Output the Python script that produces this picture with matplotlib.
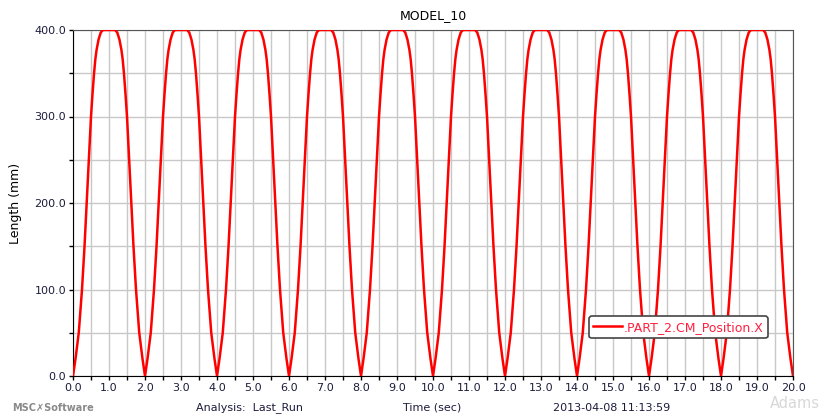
import numpy as np
import matplotlib as mpl
mpl.use('Agg')
import matplotlib.pyplot as plt

# one rise of the X position (time in s, length in mm)
rise_t = [0.00, 0.07, 0.16, 0.25, 0.32, 0.38, 0.44, 0.50, 0.54, 0.585,
          0.62, 0.655, 0.71, 0.77, 0.83]
rise_y = [0.0, 20.0, 50.0, 100.0, 150.0, 200.0, 250.0, 300.0, 325.0, 350.0,
          366.0, 377.0, 389.0, 397.0, 400.0]
period = 2.0
n_cycles = 10

title = 'MODEL_10'
series_label = '.PART_2.CM_Position.X'
analysis = 'Analysis:  Last_Run'
stamp = '2013-04-08 11:13:59'

# build the full trace: rise, mirrored fall, repeated each cycle
cyc_t = np.concatenate([rise_t, period - np.array(rise_t[::-1])])
cyc_y = np.concatenate([rise_y, rise_y[::-1]])
t_all, y_all = [], []
for k in range(n_cycles):
    t_all.append(cyc_t + k * period)
    y_all.append(cyc_y)
t_all = np.concatenate(t_all)
y_all = np.concatenate(y_all)

W, H = 824, 416
fig = plt.figure(figsize=(W / 100.0, H / 100.0), dpi=100)
ax = fig.add_axes([73.0 / W, 1 - 376.0 / H, 720.0 / W, 346.0 / H])

tick_col = '#1c1c3c'
ax.plot(t_all, y_all, '-', color='#ff0000', lw=1.8, zorder=3, label=series_label)

ax.set_xlim(0, 20)
ax.set_ylim(0, 400)
ax.set_xticks(np.arange(0, 20.01, 1.0))
ax.set_xticks(np.arange(0.5, 20.0, 1.0), minor=True)
ax.set_yticks(np.arange(0, 400.1, 100.0))
ax.set_yticks(np.arange(50, 400, 100.0), minor=True)
ax.xaxis.set_major_formatter(mpl.ticker.FormatStrFormatter('%.1f'))
ax.yaxis.set_major_formatter(mpl.ticker.FormatStrFormatter('%.1f'))
ax.grid(True, which='both', color='#c8c8c8', lw=1.0, zorder=0)
ax.set_axisbelow(True)
ax.tick_params('both', which='both', length=3, width=1, direction='out',
               labelsize=8, labelcolor=tick_col, pad=2)

ax.spines['left'].set_color('k')
ax.spines['bottom'].set_color('k')
ax.spines['top'].set_color('#555555')
ax.spines['right'].set_color('#555555')

ax.set_ylabel('Length (mm)', fontsize=9, color='k', labelpad=9)
ax.set_title(title, fontsize=9, color='k', pad=8)

leg = ax.legend(loc='lower left', bbox_to_anchor=(516.0 / 720, 38.0 / 346),
                fontsize=9, frameon=True, fancybox=True, handlelength=2.3,
                handletextpad=0.1, borderpad=0.35, borderaxespad=0.0)
leg.get_frame().set_edgecolor('#444444')
leg.get_frame().set_linewidth(1.2)
leg.get_frame().set_alpha(1.0)
for txt in leg.get_texts():
    txt.set_color('#ff2040')

# footer line
fy = 1 - 408.0 / H
fig.text(250.0 / W, fy, analysis, fontsize=8, color=tick_col, ha='center', va='center')
fig.text(432.0 / W, fy, 'Time (sec)', fontsize=8, color=tick_col, ha='center', va='center')
fig.text(612.0 / W, fy, stamp, fontsize=8, color=tick_col, ha='center', va='center')
fig.text(12.0 / W, fy, 'MSC\u2717Software', fontsize=7, color='#8a8a8a', ha='left',
         va='center', fontweight='bold')
fig.text(770.0 / W, 1 - 403.0 / H, 'Adams', fontsize=10.5, color='#d8d8d8',
         ha='left', va='center')

fig.savefig('out.png', dpi=100)
